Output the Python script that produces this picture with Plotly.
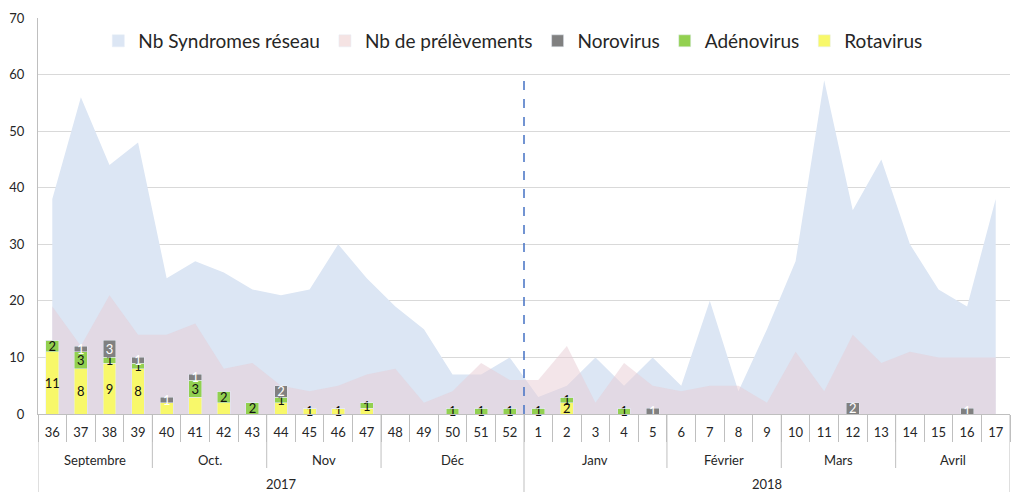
import plotly.graph_objects as go

# ---------------- data ----------------
weeks = [36, 37, 38, 39, 40, 41, 42, 43, 44, 45, 46, 47, 48, 49, 50, 51, 52,
         1, 2, 3, 4, 5, 6, 7, 8, 9, 10, 11, 12, 13, 14, 15, 16, 17]
syndromes = [38, 56, 44, 48, 24, 27, 25, 22, 21, 22, 30, 24, 19, 15, 7, 7, 10,
             3, 5, 10, 5, 10, 5, 20, 4, 15, 27, 59, 36, 45, 30, 22, 19, 38]
prelevements = [19, 12, 21, 14, 14, 16, 8, 9, 5, 4, 5, 7, 8, 2, 4, 9, 6,
                6, 12, 2, 9, 5, 4, 5, 5, 2, 11, 4, 14, 9, 11, 10, 10, 10]
rotavirus = [11, 8, 9, 8, 2, 3, 2, 0, 2, 1, 1, 1, 0, 0, 0, 0, 0,
             0, 2, 0, 0, 0, 0, 0, 0, 0, 0, 0, 0, 0, 0, 0, 0, 0]
adenovirus = [2, 3, 1, 1, 0, 3, 2, 2, 1, 0, 0, 1, 0, 0, 1, 1, 1,
              1, 1, 0, 1, 0, 0, 0, 0, 0, 0, 0, 0, 0, 0, 0, 0, 0]
norovirus = [0, 1, 3, 1, 1, 1, 0, 0, 2, 0, 0, 0, 0, 0, 0, 0, 0,
             0, 0, 0, 0, 1, 0, 0, 0, 0, 0, 0, 2, 0, 0, 0, 1, 0]
rota_unlabelled_weeks = [40, 41, 42, 44, 47]

months = ["Septembre", "Oct.", "Nov", "Déc", "Janv", "Février", "Mars", "Avril"]
month_weeks = [4, 4, 4, 5, 5, 4, 4, 4]
years = ["2017", "2018"]
year_weeks = [17, 17]

FONT = "Lato, 'Open Sans', sans-serif"
TXT = "#262626"
LINE = "#BFBFBF"

x = list(range(len(weeks)))
plot_h = 492 - 18 - 78


def lbl(vals, hidden=()):
    return [("" if (v == 0 or w in hidden) else str(v)) for w, v in zip(weeks, vals)]


fig = go.Figure()

# areas (main axes)
fig.add_trace(go.Scatter(x=x, y=syndromes, mode="none", fill="tozeroy",
                         fillcolor="#DCE6F4", showlegend=False, hoverinfo="skip"))
fig.add_trace(go.Scatter(x=x, y=prelevements, mode="none", fill="tozeroy",
                         fillcolor="rgba(232,204,212,0.5)", showlegend=False,
                         hoverinfo="skip"))

# legend entries for the areas
fig.add_trace(go.Bar(x=[None], y=[None], name="Nb Syndromes réseau",
                     marker_color="#DCE6F4", legendrank=1))
fig.add_trace(go.Bar(x=[None], y=[None], name="Nb de prélèvements",
                     marker_color="#F5E3E3", legendrank=2))

# stacked bars on an overlaid axis pair so they sit above the areas
bar_common = dict(width=0.45, textposition="inside", insidetextanchor="middle",
                  textangle=0, constraintext="none", cliponaxis=False,
                  xaxis="x2", yaxis="y2")

fig.add_trace(go.Bar(x=x, y=rotavirus, name="Rotavirus", marker_color="#F8F86A",
                     text=lbl(rotavirus, rota_unlabelled_weeks), legendrank=5,
                     textfont=dict(size=13, color="#111", family=FONT), **bar_common))
fig.add_trace(go.Bar(x=x, y=adenovirus, name="Adénovirus", marker_color="#92D050",
                     text=lbl(adenovirus), legendrank=4,
                     textfont=dict(size=13, color="#111", family=FONT), **bar_common))
fig.add_trace(go.Bar(x=x, y=norovirus, name="Norovirus", marker_color="#808080",
                     text=lbl(norovirus), legendrank=3,
                     textfont=dict(size=13, color="white", family=FONT), **bar_common))

shapes = []
# separation line between the two years (dashed)
shapes.append(dict(type="line", xref="x", yref="y", x0=year_weeks[0] - 0.5,
                   x1=year_weeks[0] - 0.5, y0=0, y1=60,
                   line=dict(color="#4472C4", width=1.5, dash="dash")))

year_bounds = []
c = 0
for n in year_weeks:
    year_bounds.append(c)
    c += n
year_bounds.append(c)

annotations = []
c = 0
for m, n in zip(months, month_weeks):
    annotations.append(dict(x=c + n / 2 - 0.5, y=-(460 - 414) / plot_h, xref="x",
                            yref="paper", text=m, showarrow=False,
                            font=dict(size=13, color=TXT, family=FONT),
                            yanchor="middle"))
    c += n
    if c not in year_bounds:
        shapes.append(dict(type="line", xref="x", yref="paper", x0=c - 0.5,
                           x1=c - 0.5, y0=0, y1=-(468 - 414) / plot_h,
                           line=dict(color=LINE, width=1)))
c = 0
for yl, n in zip(years, year_weeks):
    annotations.append(dict(x=c + n / 2 - 0.5, y=-(484 - 414) / plot_h, xref="x",
                            yref="paper", text=yl, showarrow=False,
                            font=dict(size=13, color=TXT, family=FONT),
                            yanchor="middle"))
    c += n
for b in year_bounds:
    shapes.append(dict(type="line", xref="x", yref="paper", x0=b - 0.5,
                       x1=b - 0.5, y0=0, y1=-(492 - 414) / plot_h,
                       line=dict(color=LINE, width=1)))

xr = [-0.5, len(weeks) - 0.5]
fig.update_layout(
    width=1011, height=492,
    margin=dict(l=38, r=1, t=18, b=78, autoexpand=False),
    plot_bgcolor="white", paper_bgcolor="white",
    barmode="stack",
    font=dict(family=FONT, color=TXT),
    shapes=shapes, annotations=annotations,
    legend=dict(orientation="h", x=0.489, xanchor="center", y=0.942,
                yanchor="middle", font=dict(size=19, color=TXT, family=FONT),
                bgcolor="rgba(0,0,0,0)", traceorder="normal"),
    xaxis=dict(range=xr, tickmode="array", tickvals=x,
               ticktext=[str(w) for w in weeks], ticks="", showgrid=False,
               zeroline=False, showline=True, linecolor=LINE,
               tickfont=dict(size=13, color=TXT, family=FONT),
               ticklabelstandoff=6,
               minor=dict(tickmode="array",
                          tickvals=[i - 0.5 for i in range(len(weeks) + 1)],
                          ticks="outside", ticklen=27, tickcolor=LINE,
                          tickwidth=1, showgrid=False)),
    yaxis=dict(range=[0, 70], dtick=10, tick0=0, showgrid=True,
               gridcolor="#D9D9D9", zeroline=False, showline=True,
               linecolor=LINE, ticks="",
               tickfont=dict(size=13, color=TXT, family=FONT),
               ticklabelstandoff=10),
    xaxis2=dict(range=xr, overlaying="x", matches="x", visible=False),
    yaxis2=dict(range=[0, 70], overlaying="y", matches="y", visible=False),
)

fig.write_html("out.html", config={"displayModeBar": False},
               post_script="document.body.style.margin='0px';document.body.style.overflow='hidden';")
